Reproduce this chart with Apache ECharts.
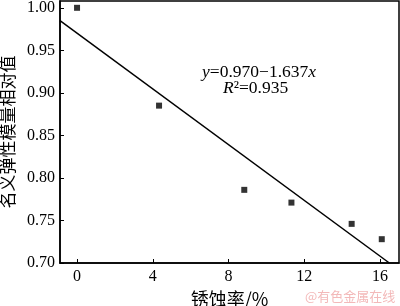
<!DOCTYPE html>
<html>
<head>
<meta charset="utf-8">
<script src="https://cdn.jsdelivr.net/npm/echarts@6/dist/echarts.min.js"></script>
<style>html,body{margin:0;padding:0;background:#fff}#c{width:400px;height:306px}</style>
</head>
<body>
<div id="c"></div>
<script>
// Data
var corrosionRate = [0, 4.33, 8.83, 11.32, 14.5, 16.09];
var relModulus = [1.000, 0.885, 0.786, 0.771, 0.746, 0.728];
var fitX = [-0.9, 16.49];
var fitY = [0.985, 0.700];
var xTicks = [0, 4, 8, 12, 16];
var yTicks = [0.70, 0.75, 0.80, 0.85, 0.90, 0.95, 1.00];
var xName = '锈蚀率/%';
var yName = '名义弹性模量相对值';
var eqLine1 = ['y', '=0.970−1.637', 'x'];
var eqLine2 = ['R', '²=0.935'];
var watermark = '@有色金属在线';

var serif = '"Liberation Serif","Times New Roman",serif';
var cjk = '"Noto Sans CJK SC",sans-serif';

var chart = echarts.init(document.getElementById('c'));
chart.setOption({
  animation: false,
  backgroundColor: '#fff',
  grid: {left: 60, right: 1, top: 1, bottom: 43, show: true, borderColor: '#000', borderWidth: 1.5,
         containLabel: false, outerBoundsMode: 'none'},
  xAxis: {
    type: 'value', min: -0.9, max: 17.0,
    name: xName, nameLocation: 'middle', nameGap: 24,
    nameTextStyle: {fontFamily: cjk, fontSize: 18, color: '#000'},
    axisLine: {show: true, onZero: false, lineStyle: {color: '#000', width: 1.5}},
    axisTick: {show: true, inside: true, length: 4, customValues: xTicks, lineStyle: {color: '#000'}},
    axisLabel: {customValues: xTicks, fontFamily: serif, fontSize: 16, color: '#000', margin: 6},
    splitLine: {show: false}
  },
  yAxis: {
    type: 'value', min: 0.70, max: 1.008,
    name: yName, nameLocation: 'middle', nameGap: 38, nameRotate: 90,
    nameTextStyle: {fontFamily: cjk, fontSize: 17, color: '#000'},
    axisLine: {show: true, onZero: false, lineStyle: {color: '#000', width: 1.5}},
    axisTick: {show: true, inside: true, length: 4, customValues: yTicks, lineStyle: {color: '#000'}},
    axisLabel: {customValues: yTicks, fontFamily: serif, fontSize: 16, color: '#000', margin: 5,
      formatter: function (v) { return v.toFixed(2); }},
    splitLine: {show: false}
  },
  series: [
    {
      type: 'scatter', symbol: 'rect', symbolSize: 6,
      itemStyle: {color: '#000'},
      data: corrosionRate.map(function (x, i) { return [x, relModulus[i]]; })
    },
    {
      type: 'line', symbol: 'none', lineStyle: {color: '#000', width: 1.5},
      data: fitX.map(function (x, i) { return [x, fitY[i]]; })
    }
  ],
  graphic: [
    {type: 'text', left: 202, top: 63, style: {
      rich: {i: {fontFamily: serif, fontStyle: 'italic', fontSize: 17.5, fill: '#000'},
             n: {fontFamily: serif, fontSize: 17.5, fill: '#000'}},
      text: '{i|' + eqLine1[0] + '}{n|' + eqLine1[1] + '}{i|' + eqLine1[2] + '}'
    }},
    {type: 'text', left: 223, top: 79, style: {
      rich: {i: {fontFamily: serif, fontStyle: 'italic', fontSize: 17.5, fill: '#000'},
             n: {fontFamily: serif, fontSize: 17.5, fill: '#000'}},
      text: '{i|' + eqLine2[0] + '}{n|' + eqLine2[1] + '}'
    }},
    {type: 'text', left: 305, top: 290, style: {
      text: watermark, fontFamily: cjk, fontSize: 13, fill: '#f3b9b9'
    }}
  ]
});
</script>
</body>
</html>
